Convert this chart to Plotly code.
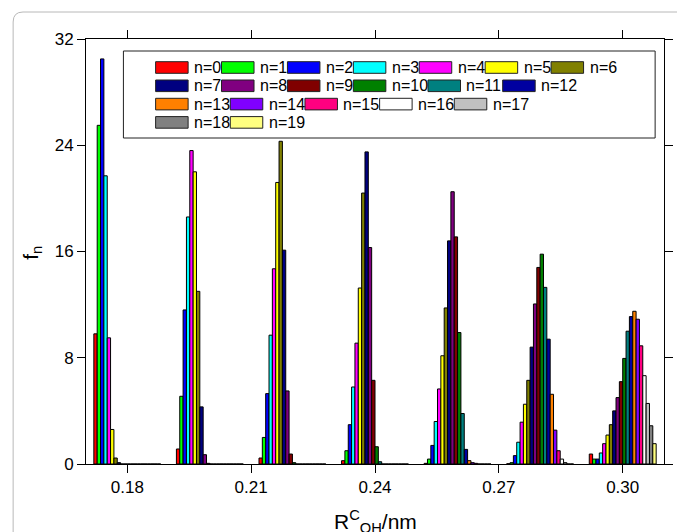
import plotly.graph_objects as go

# ---- data -------------------------------------------------------------
groups = [0.18, 0.20, 0.22, 0.24, 0.26, 0.28, 0.30]
tick_vals = [0.18, 0.21, 0.24, 0.27, 0.30]
tick_text = ["0.18", "0.21", "0.24", "0.27", "0.30"]
y_ticks = [0, 8, 16, 24, 32]
labels = [f"n={i}" for i in range(20)]

# f_n for n = 0..19 at each R position
g018 = [9.8, 25.5, 30.5, 21.7, 9.5, 2.6, 0.45, 0.1, 0, 0, 0, 0, 0, 0, 0, 0, 0, 0, 0, 0]
g020 = [1.13, 5.1, 11.6, 18.6, 23.6, 22.0, 13.0, 4.3, 0.7, 0.05, 0, 0, 0, 0, 0, 0, 0, 0, 0, 0]
g022 = [0.45, 2.0, 5.3, 9.7, 14.7, 21.2, 24.3, 16.1, 5.5, 0.75, 0.1, 0, 0, 0, 0, 0, 0, 0, 0, 0]
g024 = [0.25, 1.0, 2.96, 5.8, 9.1, 13.25, 20.4, 23.5, 16.3, 6.3, 1.3, 0.17, 0, 0, 0, 0, 0, 0, 0, 0]
g026 = [0.05, 0.37, 1.4, 3.2, 5.65, 8.15, 11.75, 16.8, 20.5, 17.1, 9.9, 3.8, 1.1, 0.25, 0.1, 0.05, 0, 0, 0, 0]
g028 = [0.02, 0.1, 0.63, 1.64, 3.15, 4.5, 6.3, 8.8, 12.05, 14.8, 15.8, 13.3, 9.4, 5.25, 2.55, 1.0, 0.37, 0.1, 0, 0]
g030 = [0.75, 0.37, 0.37, 0.83, 1.53, 2.18, 2.96, 4.0, 5.0, 6.2, 7.95, 10.0, 11.1, 11.5, 10.9, 8.9, 6.65, 4.56, 2.88, 1.53]
group_values = [g018, g020, g022, g024, g026, g028, g030]

colors = ["#FF0000", "#00FF00", "#0000FF", "#00FFFF", "#FF00FF", "#FFFF00",
          "#808000", "#000080", "#800080", "#800000", "#008000", "#008080",
          "#0000A0", "#FF8000", "#8000FF", "#FF0080", "#FFFFFF", "#C0C0C0",
          "#808080", "#FFFF80"]

# ---- layout constants (pixels) ---------------------------------------
W, H = 677, 532
ML, MR, MT, MB = 86, 4, 39, 68
PW, PH = W - ML - MR, H - MT - MB
FONT = "Liberation Sans, Arial, sans-serif"


def px(x):
    return (x - ML) / PW


def py(y):
    return (H - MB - y) / PH


fig = go.Figure()
for n, lab in enumerate(labels):
    fig.add_trace(go.Bar(
        x=groups,
        y=[g[n] for g in group_values],
        name=lab,
        marker=dict(color=colors[n], line=dict(color="black", width=1)),
        showlegend=False,
    ))

shapes = []
annotations = []

# outer light rounded frame
path = (f"M {px(12)},{py(620)} L {px(12)},{py(22)} "
        f"Q {px(12)},{py(12)} {px(22)},{py(12)} L {px(760)},{py(12)}")
shapes.append(dict(type="path", xref="paper", yref="paper", path=path,
                   line=dict(color="#b8b8b8", width=1)))

# legend box
shapes.append(dict(type="rect", xref="paper", yref="paper",
                   x0=px(124), x1=px(664), y0=py(51), y1=py(138),
                   line=dict(color="#222222", width=1), fillcolor="white"))

row_counts = [7, 6, 5, 2]
idx = 0
for r, cnt in enumerate(row_counts):
    yc = 67.5 + r * 18.3
    x = 156.7
    for _ in range(cnt):
        shapes.append(dict(type="rect", xref="paper", yref="paper",
                           x0=px(x), x1=px(x + 33), y0=py(yc + 5.8), y1=py(yc - 5.8),
                           fillcolor=colors[idx], line=dict(color="#222222", width=1)))
        annotations.append(dict(text=labels[idx], xref="paper", yref="paper",
                                x=px(x + 37), y=py(yc), xanchor="left", yanchor="middle",
                                showarrow=False, font=dict(size=16, color="black", family=FONT)))
        tw = 16 * (0.556 + 0.584 + 0.556 * (len(labels[idx]) - 2))
        x = x + 38 + tw + 1.8
        idx += 1

# axis titles
annotations.append(dict(text="f<sub>n</sub>", xref="paper", yref="paper",
                        x=px(31), y=py(253), textangle=-90, showarrow=False,
                        xanchor="center", yanchor="middle",
                        font=dict(size=21, color="black", family=FONT)))
annotations.append(dict(text="R<sup>C</sup><sub>OH</sub>/nm", xref="paper", yref="paper",
                        x=px(380), y=py(521), showarrow=False,
                        xanchor="center", yanchor="middle",
                        font=dict(size=21, color="black", family=FONT)))

axis_common = dict(showline=True, linecolor="black", linewidth=1, mirror="ticks",
                   ticks="outside", ticklen=8, tickwidth=1, tickcolor="black",
                   showgrid=False, zeroline=False,
                   tickfont=dict(size=17, color="black", family=FONT))

fig.update_layout(
    width=W, height=H,
    margin=dict(l=ML, r=MR, t=MT, b=MB, pad=0),
    paper_bgcolor="white", plot_bgcolor="white",
    barmode="group", bargap=0.19, bargroupgap=0,
    xaxis=dict(range=[0.17, 0.31], tickvals=tick_vals, ticktext=tick_text, **axis_common),
    yaxis=dict(range=[0, 32], tickvals=y_ticks, ticktext=[str(v) for v in y_ticks], **axis_common),
    shapes=shapes, annotations=annotations,
    showlegend=False,
)

fig.write_html("out.html")
